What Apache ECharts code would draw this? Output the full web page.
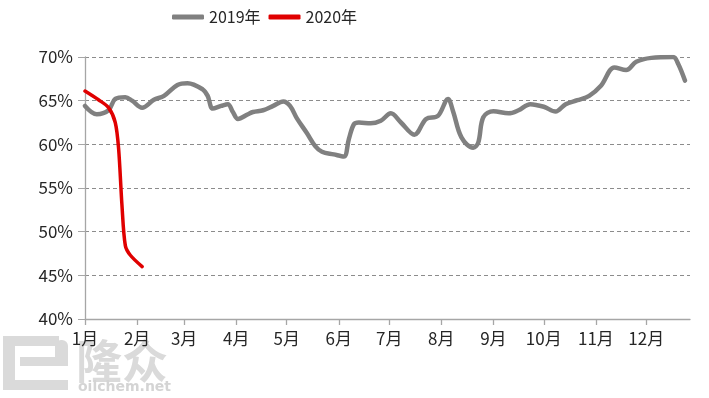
<!DOCTYPE html>
<html>
<head>
<meta charset="utf-8">
<script src="https://cdn.jsdelivr.net/npm/echarts@6/dist/echarts.min.js"></script>
<style>html,body{margin:0;padding:0;background:#fff}#c{width:709px;height:398px}</style>
</head>
<body>
<div id="c"></div>
<script>
// Month tick positions (day of year) and labels
var monthDays = [0, 31, 59, 90, 120, 151, 181, 212, 243, 273, 304, 334];
var monthLabels = ['1月','2月','3月','4月','5月','6月','7月','8月','9月','10月','11月','12月'];
var yTicks = [40, 45, 50, 55, 60, 65, 70];

// 2019 series: day of year, value (%)
var days2019 = [0, 7, 14, 18, 24, 28, 34, 41, 47, 55, 61, 70, 73, 76, 81, 85, 88, 91, 97, 100, 106, 112, 118, 122, 126, 132, 137, 141, 148, 154, 157, 160, 163, 170, 176, 182, 188, 196, 203, 210, 216, 219, 224, 231, 234, 237, 243, 252, 258, 265, 273, 280, 286, 293, 300, 307, 315, 322, 328, 337, 350, 353, 357];
var vals2019 = [64.4, 63.45, 63.9, 65.2, 65.4, 65.0, 64.2, 65.1, 65.55, 66.8, 67.0, 66.3, 65.55, 64.1, 64.4, 64.6, 63.7, 62.9, 63.45, 63.7, 63.9, 64.4, 64.9, 64.4, 63.0, 61.3, 59.8, 59.15, 58.85, 58.6, 60.6, 62.3, 62.5, 62.4, 62.7, 63.55, 62.5, 61.1, 62.9, 63.25, 65.2, 63.8, 60.8, 59.6, 60.2, 63.1, 63.8, 63.55, 63.9, 64.6, 64.3, 63.75, 64.6, 65.05, 65.55, 66.7, 68.8, 68.5, 69.45, 69.9, 70.0, 69.2, 67.3];

// 2020 series
var days2020 = [0, 8, 14, 18, 20, 22, 24, 27, 34];
var vals2020 = [66.1, 65.1, 64.2, 62.5, 59.5, 53.0, 48.4, 47.3, 46.0];

function zip(a, b) { return a.map(function (d, i) { return [d, b[i]]; }); }

var chart = echarts.init(document.getElementById('c'));
var font = '"Noto Sans CJK SC", "Noto Sans", sans-serif';
chart.setOption({
  animation: false,
  textStyle: { fontFamily: font },
  legend: {
    left: 172, top: 9, padding: 0,
    icon: 'roundRect',
    itemWidth: 32, itemHeight: 5, itemGap: 8,
    textStyle: { fontSize: 16, color: '#262626', fontFamily: font },
    data: ['2019年', '2020年']
  },
  grid: { left: 85, right: 19, top: 57, bottom: 79, containLabel: false },
  xAxis: {
    type: 'value', min: 0, max: 360,
    splitLine: { show: false },
    axisLine: { lineStyle: { color: '#a6a6a6', width: 1.3 } },
    axisTick: { show: true, length: 6, customValues: monthDays, lineStyle: { color: '#a6a6a6', width: 1.3 } },
    axisLabel: {
      customValues: monthDays, margin: 11,
      fontSize: 17, color: '#262626', fontFamily: font,
      formatter: function (v) { var i = monthDays.indexOf(v); return i >= 0 ? monthLabels[i] : ''; }
    }
  },
  yAxis: {
    type: 'value', min: 40, max: 70, interval: 5,
    axisLine: { show: true, lineStyle: { color: '#a6a6a6', width: 1.3 } },
    axisTick: { show: true, length: 7, lineStyle: { color: '#a6a6a6' } },
    splitLine: { lineStyle: { color: '#8c8c8c', type: [4, 3], width: 1 } },
    axisLabel: { fontSize: 17, color: '#262626', margin: 12, fontFamily: font, formatter: '{value}%' }
  },
  series: [
    {
      name: '2019年', type: 'line', data: zip(days2019, vals2019),
      smooth: 0.35, symbol: 'none',
      lineStyle: { color: '#808080', width: 4.5, cap: 'round', join: 'round' },
      itemStyle: { color: '#808080' }, z: 2
    },
    {
      name: '2020年', type: 'line', data: zip(days2020, vals2020),
      smooth: 0.3, symbol: 'none',
      lineStyle: { color: '#e00000', width: 3.5, cap: 'round', join: 'round' },
      itemStyle: { color: '#e00000' }, z: 3
    }
  ],
  graphic: [
    { type: 'group', z: -10, silent: true, children: [
      { type: 'rect', shape: { x: 3, y: 336, width: 56, height: 10 }, style: { fill: '#dadada' } },
      { type: 'rect', shape: { x: 3, y: 336, width: 12, height: 54 }, style: { fill: '#dadada' } },
      { type: 'rect', shape: { x: 3, y: 380, width: 65, height: 10 }, style: { fill: '#dadada' } },
      { type: 'rect', shape: { x: 20, y: 357, width: 48, height: 9 }, style: { fill: '#dadada' } },
      { type: 'rect', shape: { x: 55, y: 340, width: 13, height: 26, r: [6, 6, 0, 0] }, style: { fill: '#dadada' } },
      { type: 'text', x: 76, y: 338, style: { text: '隆众', fill: '#dadada', font: 'bold 46px "Noto Sans CJK SC"' } },
      { type: 'text', x: 78, y: 380, style: { text: 'oilchem.net', fill: '#d4d4d4', font: 'bold 14px "DejaVu Sans"' } }
    ] }
  ]
});
</script>
</body>
</html>
